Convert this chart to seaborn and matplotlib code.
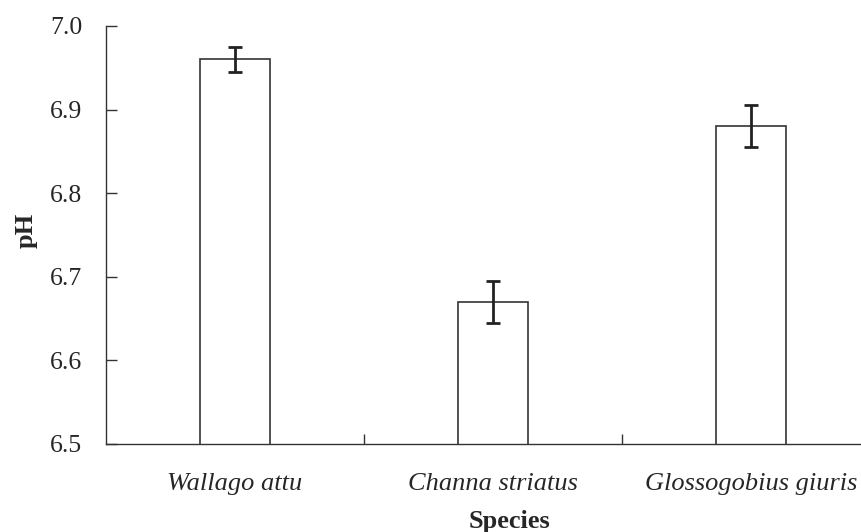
import numpy as np
import pandas as pd
import seaborn as sns
import matplotlib.pyplot as plt
from matplotlib.ticker import FixedLocator

species = ['Wallago attu', 'Channa striatus', 'Glossogobius giuris']
ph_mean = [6.96, 6.67, 6.88]
ph_err = [0.015, 0.025, 0.025]
yticks = [6.5, 6.6, 6.7, 6.8, 6.9, 7.0]

df = pd.DataFrame({'species': species, 'ph': ph_mean})

sns.set_style('white')
plt.rcParams['font.family'] = ['Liberation Serif', 'DejaVu Serif']

fig = plt.figure(figsize=(8.61, 5.32), dpi=100)
# axes run past the right edge, like the original export
ax = fig.add_axes([106/861, 88/532, 774/861, 418/532])

sns.barplot(data=df, x='species', y='ph', color='white', edgecolor='#333333',
            linewidth=1.2, width=0.27, ax=ax)
ax.errorbar(np.arange(len(species)), ph_mean, yerr=ph_err, fmt='none',
            ecolor='#222222', elinewidth=2, capsize=5, capthick=2)

ax.set_xlim(-0.5, 2.5)
ax.set_ylim(6.5, 7.0)
ax.set_yticks(yticks)
ax.set_yticklabels([f'{t:.1f}' for t in yticks], fontsize=18.5)
ax.tick_params(axis='y', left=True, direction='in', length=8, width=1,
               color='#333333', pad=17)

# labels at category centres, tick marks at the boundaries
ax.set_xticks(range(len(species)))
ax.set_xticklabels(species, fontsize=19, style='italic')
ax.tick_params(axis='x', which='major', bottom=False, length=0, pad=21)
ax.xaxis.set_minor_locator(FixedLocator([0.5, 1.5]))
ax.tick_params(axis='x', which='minor', bottom=True, direction='in', length=7,
               width=1, color='#333333')

for s in ['top', 'right']:
    ax.spines[s].set_visible(False)
for s in ['left', 'bottom']:
    ax.spines[s].set_color('#333333')
    ax.spines[s].set_linewidth(1)

ax.set_xlabel('Species', fontsize=19, fontweight='bold')
ax.set_ylabel('pH', fontsize=19, fontweight='bold')
ax.xaxis.set_label_coords((510-106)/774, -0.157)
ax.yaxis.set_label_coords(-0.088, 0.512)

fig.savefig('out.png', dpi=100)
